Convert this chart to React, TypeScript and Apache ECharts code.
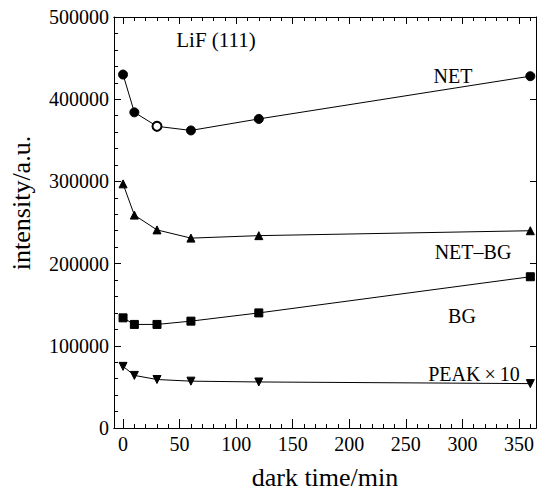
import React, { useEffect, useRef } from 'react';
import * as echarts from 'echarts';

// dark time (min)
const times = [0, 10, 30, 60, 120, 360];
// intensities (a.u.)
const netValues = [430000, 384000, 367000, 362000, 376000, 428000];
const netBgValues = [297000, 259000, 241000, 231000, 234000, 240000];
const bgValues = [134000, 126000, 126000, 130000, 140000, 184000];
const peak10Values = [75000, 64000, 59000, 57000, 56000, 54000];

const xMajorTicks = [0, 50, 100, 150, 200, 250, 300, 350];
const xMinorTicks = [0, 10, 20, 30, 40, 50, 60, 70, 80, 90, 100, 110, 120, 130, 140, 150, 160, 170, 180, 190, 200, 210, 220, 230, 240, 250, 260, 270, 280, 290, 300, 310, 320, 330, 340, 350, 360];
const yTickValues = [0, 100000, 200000, 300000, 400000, 500000];

const FONT = 'Liberation Serif';

export default function App() {
  const ref = useRef<HTMLDivElement>(null);

  useEffect(() => {
    if (!ref.current) return;
    const chart = echarts.init(ref.current, null, { renderer: 'svg' });

    const axisLine = { show: true, onZero: false, lineStyle: { color: '#000', width: 1 } };
    const xBase = {
      type: 'value' as const,
      min: -8,
      max: 365,
      splitLine: { show: false },
      axisLine,
    };
    const toPts = (vals: number[]) => times.map((t, i) => [t, vals[i]]);

    const lineSeries = (name: string, vals: number[], symbol: string, size: number, rotate = 0) => ({
      name,
      type: 'line',
      data: toPts(vals),
      symbol,
      symbolSize: size,
      symbolRotate: rotate,
      showAllSymbol: true,
      lineStyle: { color: '#000', width: 1 },
      itemStyle: { color: '#000', borderColor: '#000' },
      clip: false,
    });

    const netSeries: any = lineSeries('NET', netValues, 'circle', 9);
    netSeries.data = toPts(netValues).map((p, i) =>
      i === 2 ? { value: p, itemStyle: { color: '#fff', borderColor: '#000', borderWidth: 2 } } : p
    );

    const txt = (text: string, x: number, y: number, size = 20, rotation = 0) => ({
      type: 'text',
      x,
      y,
      rotation,
      style: { text, fontFamily: FONT, fontSize: size, fill: '#000', align: 'center', verticalAlign: 'middle' },
    });

    chart.setOption({
      animation: false,
      backgroundColor: '#fff',
      textStyle: { fontFamily: FONT },
      grid: { left: 114, right: 1, top: 17, bottom: 63, containLabel: false },
      xAxis: [
        {
          ...xBase,
          position: 'bottom',
          axisTick: { show: true, inside: true, length: 4, customValues: xMinorTicks, lineStyle: { color: '#000', width: 1 } },
          axisLabel: { show: false },
          name: 'dark time/min',
          nameLocation: 'middle',
          nameGap: 36,
          nameTextStyle: { fontFamily: FONT, fontSize: 26, color: '#000', verticalAlign: 'top' },
        },
        {
          ...xBase,
          position: 'bottom',
          axisTick: { show: true, inside: true, length: 9, customValues: xMajorTicks, lineStyle: { color: '#000', width: 1 } },
          axisLabel: { show: true, customValues: xMajorTicks, fontFamily: FONT, fontSize: 20, color: '#000', margin: 6 },
        },
        {
          ...xBase,
          position: 'top',
          axisTick: { show: true, inside: true, length: 4, customValues: xMinorTicks, lineStyle: { color: '#000', width: 1 } },
          axisLabel: { show: false },
        },
        {
          ...xBase,
          position: 'top',
          axisTick: { show: true, inside: true, length: 7, customValues: xMajorTicks, lineStyle: { color: '#000', width: 1 } },
          axisLabel: { show: false },
        },
      ],
      yAxis: [
        {
          type: 'value',
          position: 'left',
          min: yTickValues[0],
          max: yTickValues[yTickValues.length - 1],
          interval: 100000,
          splitLine: { show: false },
          axisLine,
          axisTick: { show: true, inside: true, length: 7, lineStyle: { color: '#000', width: 1 } },
          minorTick: { show: true, splitNumber: 5, length: 4, lineStyle: { color: '#000', width: 1 } },
          axisLabel: {
            show: true,
            fontFamily: FONT,
            fontSize: 20,
            color: '#000',
            margin: 5,
            formatter: (v: number) => String(v),
          },
        },
        {
          type: 'value',
          position: 'right',
          min: yTickValues[0],
          max: yTickValues[yTickValues.length - 1],
          interval: 100000,
          splitLine: { show: false },
          axisLine,
          axisTick: { show: true, inside: true, length: 6, lineStyle: { color: '#000', width: 1 } },
          axisLabel: { show: false },
        },
      ],
      series: [
        netSeries,
        lineSeries('NET–BG', netBgValues, 'triangle', 8),
        lineSeries('BG', bgValues, 'rect', 8),
        lineSeries('PEAK×10', peak10Values, 'triangle', 8, 180),
      ],
      graphic: [
        txt('intensity/a.u.', 21, 203, 26, Math.PI / 2),
        txt('LiF (111)', 216, 40, 21),
        txt('NET', 453, 76),
        txt('NET–BG', 473, 252),
        txt('BG', 462, 316),
        txt('PEAK\u2009×\u200910', 474, 374),
      ],
    });

    return () => chart.dispose();
  }, []);

  return <div ref={ref} style={{ position: 'fixed', left: 0, top: 0, width: 537, height: 495 }} />;
}
